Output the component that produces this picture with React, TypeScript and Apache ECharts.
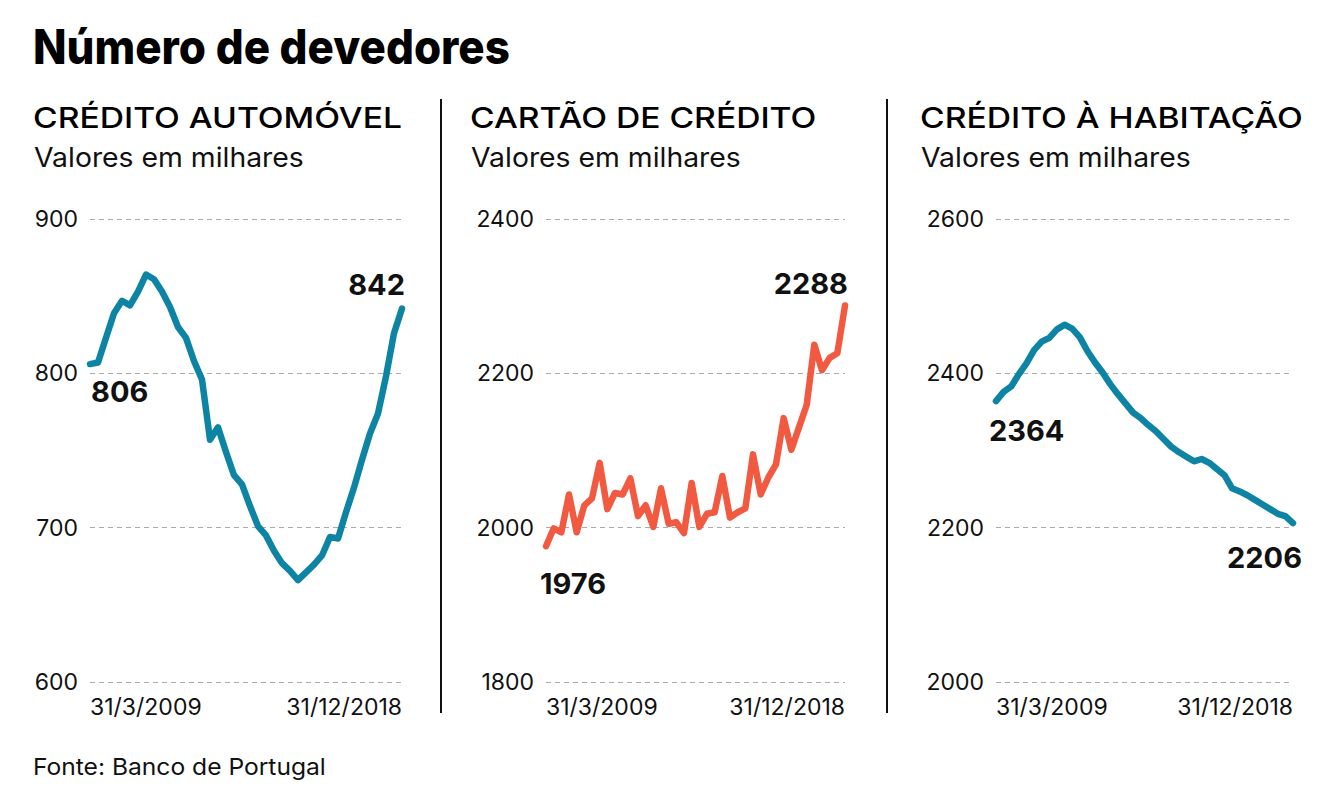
import React, { useEffect, useRef } from "react";
import * as echarts from "echarts";

const quarters = [
  "31/3/2009", "30/6/2009", "30/9/2009", "31/12/2009",
  "31/3/2010", "30/6/2010", "30/9/2010", "31/12/2010",
  "31/3/2011", "30/6/2011", "30/9/2011", "31/12/2011",
  "31/3/2012", "30/6/2012", "30/9/2012", "31/12/2012",
  "31/3/2013", "30/6/2013", "30/9/2013", "31/12/2013",
  "31/3/2014", "30/6/2014", "30/9/2014", "31/12/2014",
  "31/3/2015", "30/6/2015", "30/9/2015", "31/12/2015",
  "31/3/2016", "30/6/2016", "30/9/2016", "31/12/2016",
  "31/3/2017", "30/6/2017", "30/9/2017", "31/12/2017",
  "31/3/2018", "30/6/2018", "30/9/2018", "31/12/2018",
];

const automovel = [
  806, 807, 823, 839, 847, 844, 853, 864, 861, 853,
  843, 830, 823, 808, 796, 757, 765, 749, 734, 728,
  714, 701, 695, 685, 677, 672, 666, 671, 676, 682,
  694, 693, 710, 726, 744, 761, 774, 798, 826, 842,
];

const cartao = [
  1976, 1999, 1994, 2043, 1994, 2029, 2038, 2084, 2024, 2045,
  2043, 2064, 2015, 2029, 2001, 2051, 2005, 2007, 1993, 2058,
  2001, 2018, 2020, 2067, 2013, 2020, 2025, 2095, 2043, 2065,
  2082, 2142, 2101, 2130, 2159, 2237, 2204, 2220, 2226, 2288,
];

const habitacao = [
  2364, 2376, 2383, 2399, 2413, 2430, 2441, 2446, 2457, 2463,
  2458, 2447, 2429, 2414, 2401, 2386, 2373, 2361, 2349, 2342,
  2333, 2325, 2315, 2305, 2298, 2292, 2286, 2289, 2284, 2276,
  2268, 2251, 2247, 2242, 2236, 2230, 2224, 2218, 2215, 2206,
];

const panelTitles = ["CRÉDITO AUTOMÓVEL", "CARTÃO DE CRÉDITO", "CRÉDITO À HABITAÇÃO"];
const subtitle = "Valores em milhares";
const mainTitle = "Número de devedores";
const source = "Fonte: Banco de Portugal";

const yMins = [600, 1800, 2000];
const yMaxs = [900, 2400, 2600];
const yIntervals = [100, 200, 200];

const TEAL = "#0e84a5";
const RED = "#f15a40";
const FONT = "Inter, 'Noto Sans', sans-serif";

export default function App() {
  const ref = useRef<HTMLDivElement>(null);

  useEffect(() => {
    if (!ref.current) return;
    const chart = echarts.init(ref.current, undefined, { renderer: "svg" });

    const grids = [
      { left: 90, top: 219, width: 312, height: 463 },
      { left: 546, top: 219, width: 299, height: 463 },
      { left: 996, top: 219, width: 297, height: 463 },
    ];

    const seriesData = [automovel, cartao, habitacao];
    const colors = [TEAL, RED, TEAL];
    const firstOffsets = [
      [1, 27],
      [-6, 37],
      [-7, 29],
    ];
    const lastOffsets = [
      [3, -24],
      [3, -22],
      [9, 34],
    ];

    const labelStyle = {
      fontFamily: FONT,
      fontSize: 29,
      fontWeight: "bold",
      color: "#111",
    };

    const makeData = (arr: number[], idx: number) =>
      arr.map((v, i) => {
        if (i === 0) {
          return {
            value: v,
            label: {
              show: true,
              position: "inside",
              align: "left",
              verticalAlign: "middle",
              offset: firstOffsets[idx],
              formatter: String(v),
              ...labelStyle,
            },
          };
        }
        if (i === arr.length - 1) {
          return {
            value: v,
            label: {
              show: true,
              position: "inside",
              align: "right",
              verticalAlign: "middle",
              offset: lastOffsets[idx],
              formatter: String(v),
              ...labelStyle,
            },
          };
        }
        return v;
      });

    const graphicTexts: any[] = [
      {
        type: "text",
        x: 33,
        y: 46,
        scaleX: 0.915,
        style: {
          text: mainTitle,
          fontFamily: FONT,
          fontSize: 48,
          fontWeight: 800,
          fill: "#000",
          verticalAlign: "middle",
        },
      },
    ];
    const titleX = [33, 470, 920];
    panelTitles.forEach((t, i) => {
      graphicTexts.push({
        type: "text",
        x: titleX[i],
        y: 118,
        scaleX: 1.16,
        style: {
          text: t,
          fontFamily: FONT,
          fontSize: 29,
          fontWeight: 500,
          fill: "#000",
          verticalAlign: "middle",
        },
      });
      graphicTexts.push({
        type: "text",
        x: titleX[i] + 1,
        y: 157,
        scaleX: 1.05,
        style: {
          text: subtitle,
          fontFamily: FONT,
          fontSize: 27,
          fontWeight: 400,
          fill: "#111",
          verticalAlign: "middle",
        },
      });
    });
    graphicTexts.push({
      type: "text",
      x: 33,
      y: 767,
      scaleX: 1.07,
      style: {
        text: source,
        fontFamily: FONT,
        fontSize: 23,
        fontWeight: 400,
        fill: "#111",
        verticalAlign: "middle",
      },
    });
    [441, 887].forEach((x) => {
      graphicTexts.push({
        type: "line",
        shape: { x1: x, y1: 99, x2: x, y2: 713 },
        style: { stroke: "#111", lineWidth: 2 },
      });
    });

    chart.setOption({
      animation: false,
      backgroundColor: "#fff",
      grid: grids,
      xAxis: grids.map((_, i) => ({
        type: "category",
        gridIndex: i,
        data: quarters,
        boundaryGap: false,
        axisLine: { show: false },
        axisTick: { show: false },
        splitLine: { show: false },
        axisLabel: {
          interval: (index: number) => index === 0 || index === quarters.length - 1,
          showMinLabel: true,
          showMaxLabel: true,
          alignMinLabel: "left",
          alignMaxLabel: "right",
          margin: 13,
          fontFamily: FONT,
          fontSize: 23,
          color: "#111",
        },
      })),
      yAxis: grids.map((_, i) => ({
        type: "value",
        gridIndex: i,
        min: yMins[i],
        max: yMaxs[i],
        interval: yIntervals[i],
        axisLine: { show: false },
        axisTick: { show: false },
        splitLine: {
          show: true,
          lineStyle: { color: "#aaa", type: [5, 4], width: 1 },
        },
        axisLabel: {
          margin: 12,
          fontFamily: FONT,
          fontSize: 23,
          color: "#111",
          formatter: (v: number) => String(v),
        },
      })),
      series: seriesData.map((arr, i) => ({
        type: "line",
        xAxisIndex: i,
        yAxisIndex: i,
        data: makeData(arr, i),
        showSymbol: true,
        symbol: "circle",
        symbolSize: 2,
        itemStyle: { color: colors[i] },
        lineStyle: { color: colors[i], width: 6.5, cap: "round", join: "round" },
        emphasis: { disabled: true },
        z: 3,
      })),
      graphic: graphicTexts,
    });

    return () => chart.dispose();
  }, []);

  return (
    <div
      ref={ref}
      style={{ position: "fixed", left: 0, top: 0, width: 1334, height: 811 }}
    />
  );
}
